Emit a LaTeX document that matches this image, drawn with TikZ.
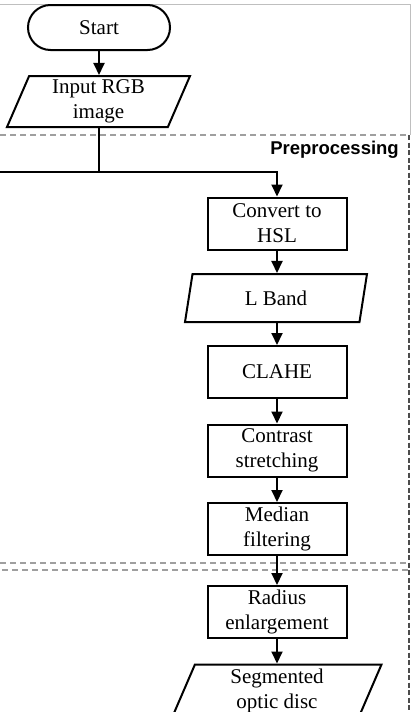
\documentclass[tikz,border=0pt]{standalone}
\usepackage{fontspec}
\setmainfont{Liberation Serif}
\setsansfont{Liberation Sans}
\usetikzlibrary{shapes.geometric,shapes.misc,arrows.meta}
\begin{document}
\begin{tikzpicture}[x=1pt,y=-1pt,
  every node/.style={font=\fontsize{21}{25}\selectfont, align=center, inner sep=0pt},
  line/.style={line width=2pt, draw=black},
  flow/.style={line width=2pt, -{Triangle[length=12pt,width=11pt]}},
  procbox/.style={draw, line width=2pt, minimum width=139pt, minimum height=52pt},
  iobox/.style={draw, line width=2pt, trapezium, trapezium left angle=63, trapezium right angle=117,
     trapezium stretches body, minimum width=183pt, minimum height=51pt},
  termbox/.style={draw, line width=2pt, rounded rectangle, minimum width=142pt, minimum height=45pt},
  region/.style={draw=gray!75, line width=2pt, dash pattern=on 6pt off 4pt},
  regionside/.style={draw=gray!60!black, line width=2pt, dash pattern=on 5pt off 2.5pt},
  frame/.style={draw=gray!50, line width=1pt}
]
\useasboundingbox (0,0) rectangle (418,712);
\fill[white] (0,0) rectangle (418,712);
% outer frame lines
\coordinate (f1) at (0,4);
\coordinate (f2) at (410.5,4);
\coordinate (f3) at (410.5,135);
\draw[frame] (f1) -- (f2) -- (f3);
% dashed region boundaries
\coordinate (r1) at (0,135);
\coordinate (r2) at (408.5,135);
\coordinate (r3) at (408.5,712);
\coordinate (r4) at (0,563);
\coordinate (r5) at (408.5,563);
\coordinate (r6) at (2,569.5);
\coordinate (r7) at (408.5,569.5);
\draw[region] (r1) -- (r2);
\draw[regionside] (r2) -- (r3);
\draw[region] (r4) -- (r5);
\draw[region] (r6) -- (r7);
\node[font=\sffamily\bfseries\fontsize{18.5}{20}\selectfont, anchor=east] (pre) at (399,150) {Preprocessing};

% nodes
\node[termbox] (st) at (99,27.5) {Start};
\node[iobox] (in) at (98.5,101.5) {Input RGB\\image};
\node[procbox] (cv) at (277,223.5) {Convert to\\HSL};
\node[iobox, minimum width=182pt, minimum height=48pt] (lb) at (276,298) {L Band};
\node[procbox] (cl) at (277,372) {CLAHE};
\node[procbox] (cs) at (277,450.5) {Contrast\\stretching};
\node[procbox] (md) at (277,529) {Median\\filtering};
\node[procbox] (rd) at (277,612) {Radius\\enlargement};
\node[iobox, minimum width=209pt, minimum height=52pt] (sg) at (277,690.5) {Segmented\\optic disc};

% connectors
\coordinate (j) at (99,172);
\coordinate (lft) at (0,172);
\coordinate (crn) at (277,172);
\draw[flow] (st.south) -- (st.south |- in.north);
\draw[line] (j |- in.south) -- (j);
\draw[flow] (lft) -- (crn) -- (cv.north);
\draw[flow] (cv.south) -- (cv.south |- lb.north);
\draw[flow] (cv.south |- lb.south) -- (cl.north);
\draw[flow] (cl.south) -- (cs.north);
\draw[flow] (cs.south) -- (md.north);
\draw[flow] (md.south) -- (rd.north);
\draw[flow] (rd.south) -- (rd.south |- sg.north);
\end{tikzpicture}
\end{document}
